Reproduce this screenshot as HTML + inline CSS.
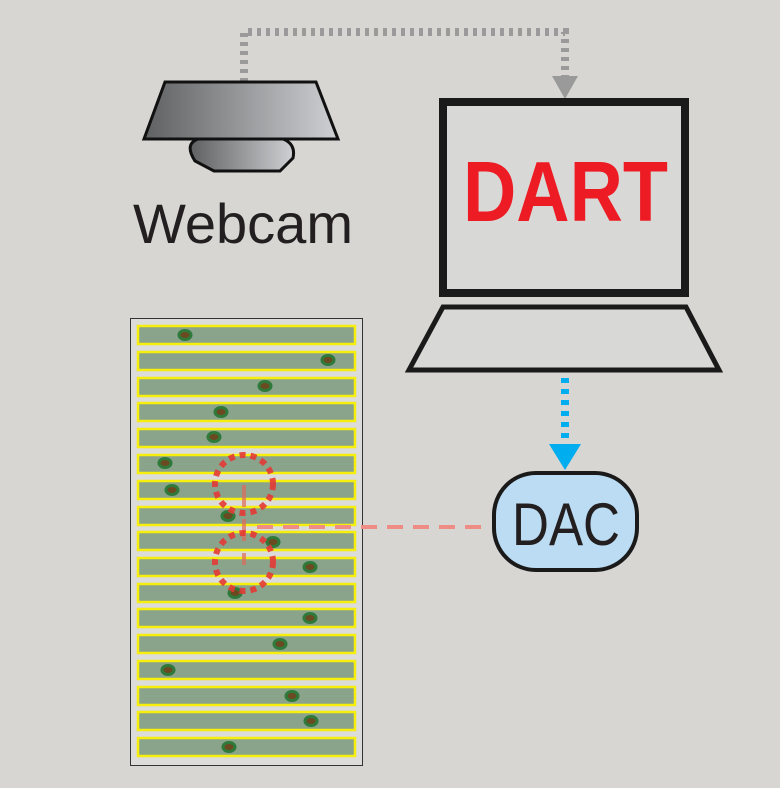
<!DOCTYPE html>
<html><head><style>body{margin:0;background:#d7d6d2}svg{display:block}</style></head>
<body>
<svg width="780" height="788" viewBox="0 0 780 788" xmlns="http://www.w3.org/2000/svg">
<defs>
<linearGradient id="g" x1="0" x2="1" y1="0" y2="0"><stop offset="0" stop-color="#5f6062"/><stop offset="1" stop-color="#cfd0d3"/></linearGradient>
</defs>
<rect width="780" height="788" fill="#d7d6d2"/>
<path d="M244 82 V32 H565 V76" fill="none" stroke="#9a9a9a" stroke-width="8" stroke-dasharray="4 5"/>
<polygon points="552,76 578,76 565,99" fill="#9a9a9a"/>
<polygon points="165,82 316,82 338,139 144,139" fill="url(#g)" stroke="#111" stroke-width="3"/>
<path d="M198,139 H283 Q296,144 293,158 L280,171 H214 L195,161 Q184,144 198,139Z" fill="url(#g)" stroke="#111" stroke-width="3"/>
<text x="133" y="243" font-family="Liberation Sans, sans-serif" font-size="56" fill="#231f20" textLength="220" lengthAdjust="spacingAndGlyphs">Webcam</text>
<rect x="443" y="102" width="242" height="191" fill="#d8d9d7" stroke="#1a1a1a" stroke-width="8"/>
<text x="463" y="221" font-family="Liberation Sans, sans-serif" font-weight="bold" font-size="85" fill="#ed1c24" textLength="205" lengthAdjust="spacingAndGlyphs">DART</text>
<polygon points="443,307 686,307 719,370 409,370" fill="#d8d9d7" stroke="#1a1a1a" stroke-width="5"/>
<path d="M565 378 V446" stroke="#00aeef" stroke-width="8" stroke-dasharray="5 6"/>
<polygon points="549,444 581,444 565,470" fill="#00aeef"/>
<rect x="494" y="473" width="143" height="97" rx="42" fill="#bbdcf2" stroke="#1a1a1a" stroke-width="4"/>
<text x="512" y="545" font-family="Liberation Sans, sans-serif" font-size="60" fill="#231f20" textLength="108" lengthAdjust="spacingAndGlyphs">DAC</text>
<rect x="130.5" y="318.5" width="232" height="447" fill="#dcdcda" stroke="#333" stroke-width="1"/>
<g fill="#8aa38b" stroke="#f6ee0c" stroke-width="2.5">
<rect x="138" y="326" width="217" height="18"/><rect x="138" y="352" width="217" height="18"/>
<rect x="138" y="378" width="217" height="18"/><rect x="138" y="403" width="217" height="18"/>
<rect x="138" y="429" width="217" height="18"/><rect x="138" y="455" width="217" height="18"/>
<rect x="138" y="481" width="217" height="18"/><rect x="138" y="507" width="217" height="18"/>
<rect x="138" y="532" width="217" height="18"/><rect x="138" y="558" width="217" height="18"/>
<rect x="138" y="584" width="217" height="18"/><rect x="138" y="609" width="217" height="18"/>
<rect x="138" y="635" width="217" height="18"/><rect x="138" y="661" width="217" height="18"/>
<rect x="138" y="687" width="217" height="18"/><rect x="138" y="712" width="217" height="18"/>
<rect x="138" y="738" width="217" height="18"/>
</g>
<g fill="#6b4a22" stroke="#2f7a3a" stroke-width="3">
<ellipse cx="185" cy="335" rx="6" ry="4.5"/><ellipse cx="328" cy="360" rx="6" ry="4.5"/>
<ellipse cx="265" cy="386" rx="6" ry="4.5"/><ellipse cx="221" cy="412" rx="6" ry="4.5"/>
<ellipse cx="214" cy="437" rx="6" ry="4.5"/><ellipse cx="165" cy="463" rx="6" ry="4.5"/>
<ellipse cx="172" cy="490" rx="6" ry="4.5"/><ellipse cx="228" cy="516" rx="6" ry="4.5"/>
<ellipse cx="273" cy="542" rx="6" ry="4.5"/><ellipse cx="310" cy="567" rx="6" ry="4.5"/>
<ellipse cx="235" cy="593" rx="6" ry="4.5"/><ellipse cx="310" cy="618" rx="6" ry="4.5"/>
<ellipse cx="280" cy="644" rx="6" ry="4.5"/><ellipse cx="168" cy="670" rx="6" ry="4.5"/>
<ellipse cx="292" cy="696" rx="6" ry="4.5"/><ellipse cx="311" cy="721" rx="6" ry="4.5"/>
<ellipse cx="229" cy="747" rx="6" ry="4.5"/>
</g>
<path d="M244 485 V565" stroke="#e06a5a" stroke-opacity="0.7" stroke-width="4" stroke-dasharray="22 12"/>
<path d="M257 527 H490" stroke="#f08c86" stroke-width="4" stroke-dasharray="16 10"/>
<circle cx="244" cy="484" r="29" fill="none" stroke="#e33a35" stroke-width="6" stroke-dasharray="6 5" opacity="0.9"/>
<circle cx="244" cy="562" r="29" fill="none" stroke="#e33a35" stroke-width="6" stroke-dasharray="6 5" opacity="0.9"/>
</svg>
</body></html>
